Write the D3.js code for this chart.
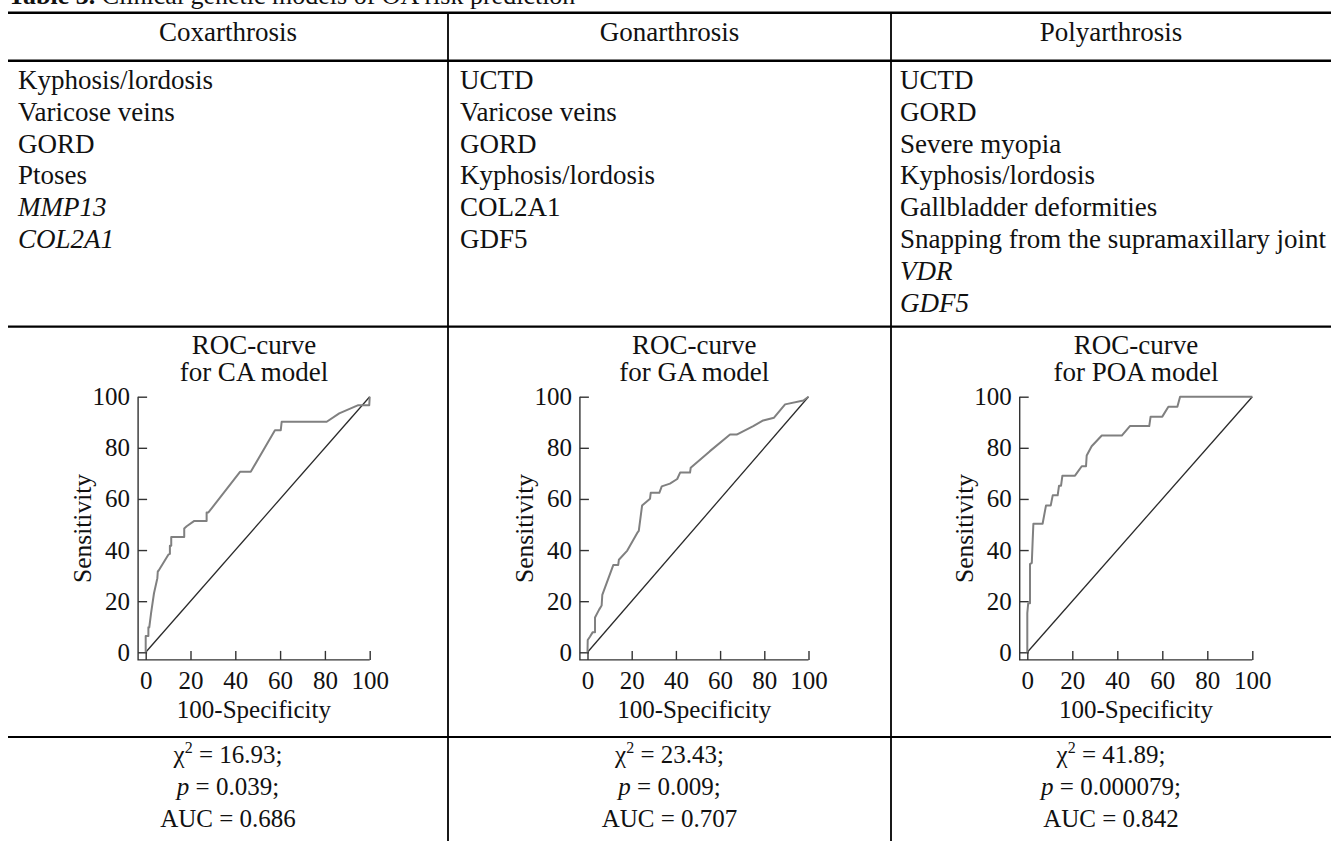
<!DOCTYPE html>
<html>
<head>
<meta charset="utf-8">
<script src="https://cdn.jsdelivr.net/npm/d3@7"></script>
<style>
  body { margin: 0; background: #fff; }
  svg { display: block; font-family: "Liberation Serif", "Times New Roman", serif; }
</style>
</head>
<body>
<script>
// table content
let columns = ["Coxarthrosis", "Gonarthrosis", "Polyarthrosis"];
let factorsCA = ["Kyphosis/lordosis", "Varicose veins", "GORD", "Ptoses", "MMP13", "COL2A1"];
let factorsGA = ["UCTD", "Varicose veins", "GORD", "Kyphosis/lordosis", "COL2A1", "GDF5"];
let factorsPOA = ["UCTD", "GORD", "Severe myopia", "Kyphosis/lordosis", "Gallbladder deformities",
    "Snapping from the supramaxillary joint", "VDR", "GDF5"];
let italicCA = ["MMP13", "COL2A1"];
let italicGA = [];
let italicPOA = ["VDR", "GDF5"];
let modelNames = ["CA", "GA", "POA"];

// ROC points: [100-Specificity, Sensitivity]
let rocCA = [[0,0],[0,6.4],[1.2,6.4],[1.2,9.8],[1.6,9.8],[2.4,15.3],[3.7,23.1],[5.2,29],[5.4,31.6],
    [5.8,32],[10.1,38.2],[10.8,38.5],[10.8,41.7],[11.4,41.7],[11.4,45.1],[17.2,45.1],[17.2,48.4],
    [18.3,49.3],[21.7,51.4],[27.2,51.4],[27.2,54.7],[28,54.7],[42.1,70.6],[46.9,70.6],[57.7,86.9],
    [60.3,86.9],[60.7,90.2],[80.8,90.2],[86.4,93.5],[94.9,96.7],[99.8,96.7],[100,100]];
let rocGA = [[0,0],[0.1,4.8],[1.1,6.1],[2.3,7.8],[3.4,7.8],[3.4,13.6],[5.2,16.6],[6.4,18.3],
    [6.7,22.5],[11.7,34.2],[13.9,34.2],[14.2,36.2],[18,39.8],[22.5,46.7],[23.2,47.5],[24.7,57.4],
    [28.3,60.1],[28.6,62.4],[32.5,62.4],[33.6,64.9],[37.3,66],[40.6,67.8],[41.9,70.3],[46.4,70.3],
    [46.7,72.2],[55.4,78.7],[64.5,85.2],[67.5,85.2],[75,88.5],[79.5,90.7],[84.4,91.8],[89.4,97],
    [97.7,98.5],[100,100]];
let rocPOA = [[0,0],[0,15.3],[0.4,19.2],[1.2,19.2],[1.2,34.5],[2,35],[2.4,44],[2.7,50.3],[6.8,50.3],
    [8.3,57.4],[10.4,57.4],[11.3,61.4],[13.5,61.4],[14.1,65.2],[15,65.2],[15.6,69.1],[21.2,69.1],
    [24.2,72.8],[26.1,72.8],[26.4,77],[28.6,80.6],[33.1,84.8],[42,84.8],[45.6,88.5],[54.2,88.5],
    [54.8,92.2],[60,92.2],[62.7,96.1],[66.7,96.1],[67.9,100],[100,100]];
let diagonal = [[0,0],[100,100]];

// statistics
let chi2 = ["16.93", "23.43", "41.89"];
let pValues = ["0.039", "0.009", "0.000079"];
let aucValues = ["0.686", "0.707", "0.842"];

let tickValues = [0, 20, 40, 60, 80, 100];

let W = 1331, H = 841;
let colEdges = [8, 448, 891, 1331];

let svg = d3.select("body").append("svg")
    .attr("width", W)
    .attr("height", H);

// caption (cut at the top of the picture)
let cap = svg.append("text")
    .attr("x", 8)
    .attr("y", 4)
    .style("font-size", "26px")
    .attr("fill", "#111");
cap.append("tspan").style("font-weight", "bold").text("Table 3.");
cap.append("tspan").text(" Clinical genetic models of OA risk prediction");

// table rules
[12.7, 60.7, 326.7, 737].forEach(function (y, i) {
    svg.append("line")
        .attr("x1", 8).attr("x2", W)
        .attr("y1", y).attr("y2", y)
        .attr("stroke", "#000")
        .attr("stroke-width", i < 2 ? 2.5 : 2.2);
});
[448, 891].forEach(function (x) {
    svg.append("line")
        .attr("x1", x).attr("x2", x)
        .attr("y1", 12.7).attr("y2", H)
        .attr("stroke", "#000")
        .attr("stroke-width", 1.8);
});

// header row
columns.forEach(function (c, i) {
    svg.append("text")
        .attr("x", (colEdges[i] + colEdges[i + 1]) / 2)
        .attr("y", 41)
        .attr("text-anchor", "middle")
        .style("font-size", "27px")
        .attr("fill", "#111")
        .text(c);
});

// factor lists
let factorLists = [factorsCA, factorsGA, factorsPOA];
let italicLists = [italicCA, italicGA, italicPOA];
let listX = [18, 460, 900];
factorLists.forEach(function (list, i) {
    svg.append("g").selectAll("text")
        .data(list)
        .enter().append("text")
        .attr("x", listX[i])
        .attr("y", function (d, j) { return 89 + j * 31.8; })
        .style("font-size", "27px")
        .style("font-style", function (d) { return italicLists[i].indexOf(d) >= 0 ? "italic" : "normal"; })
        .attr("fill", "#111")
        .text(function (d) { return d; });
});

// ROC charts
let rocData = [rocCA, rocGA, rocPOA];
let xRanges = [[145.7, 369.7], [587.5, 808.5], [1027.3, 1252.3]];
let yRange = [652.3, 396.7];
let axisGap = 7.6;

rocData.forEach(function (data, i) {
    let x = d3.scaleLinear().domain([0, 100]).range(xRanges[i]);
    let y = d3.scaleLinear().domain([0, 100]).range(yRange);
    let g = svg.append("g");
    let axX = xRanges[i][0] - axisGap;
    let axY = yRange[0] + axisGap;
    let cx = (axX + xRanges[i][1]) / 2;

    // title
    g.append("text")
        .attr("x", cx).attr("y", 354)
        .attr("text-anchor", "middle")
        .style("font-size", "27px")
        .attr("fill", "#111")
        .text("ROC-curve");
    g.append("text")
        .attr("x", cx).attr("y", 381)
        .attr("text-anchor", "middle")
        .style("font-size", "27px")
        .attr("fill", "#111")
        .text("for " + modelNames[i] + " model");

    // y axis
    let yAxis = g.append("g")
        .attr("transform", "translate(" + axX + ",0)")
        .call(d3.axisLeft(y).tickValues(tickValues).tickSizeInner(-9).tickSizeOuter(0).tickPadding(8));
    // x axis
    let xAxis = g.append("g")
        .attr("transform", "translate(0," + axY + ")")
        .call(d3.axisBottom(x).tickValues(tickValues).tickSizeInner(-9).tickSizeOuter(0).tickPadding(11));

    [yAxis, xAxis].forEach(function (a) {
        a.select(".domain").remove();
        a.selectAll("line").attr("stroke", "#333").attr("stroke-width", 1.4);
        a.selectAll("text")
            .style("font-size", "25px")
            .style("font-family", "'Liberation Serif', 'Times New Roman', serif")
            .attr("fill", "#111");
    });

    // axis lines meeting in the corner
    g.append("path")
        .attr("d", "M" + axX + "," + y(100) + "V" + axY + "H" + x(100))
        .attr("fill", "none")
        .attr("stroke", "#333")
        .attr("stroke-width", 1.4);

    // axis labels
    g.append("text")
        .attr("transform", "translate(" + (axX - 47) + "," + ((yRange[0] + yRange[1]) / 2 + 4) + ") rotate(-90)")
        .attr("text-anchor", "middle")
        .style("font-size", "25.5px")
        .attr("fill", "#111")
        .text("Sensitivity");
    g.append("text")
        .attr("x", cx).attr("y", 718)
        .attr("text-anchor", "middle")
        .style("font-size", "25px")
        .attr("fill", "#111")
        .text("100-Specificity");

    let line = d3.line()
        .x(function (d) { return x(d[0]); })
        .y(function (d) { return y(d[1]); });

    // reference diagonal
    g.append("path")
        .datum(diagonal)
        .attr("d", line)
        .attr("fill", "none")
        .attr("stroke", "#2a2a2a")
        .attr("stroke-width", 1.3);

    // ROC curve
    g.append("path")
        .datum(data)
        .attr("d", line)
        .attr("fill", "none")
        .attr("stroke", "#808080")
        .attr("stroke-width", 2)
        .attr("stroke-linejoin", "round");
});

// statistics row
chi2.forEach(function (c, i) {
    let cx = (colEdges[i] + colEdges[i + 1]) / 2;
    let t1 = svg.append("text")
        .attr("x", cx).attr("y", 763)
        .attr("text-anchor", "middle")
        .style("font-size", "25px")
        .attr("fill", "#111");
    t1.append("tspan").text("\u03C7");
    t1.append("tspan").attr("dy", -10).style("font-size", "16px").text("2");
    t1.append("tspan").attr("dy", 10).text(" = " + c + ";");

    let t2 = svg.append("text")
        .attr("x", cx).attr("y", 795)
        .attr("text-anchor", "middle")
        .style("font-size", "25px")
        .attr("fill", "#111");
    t2.append("tspan").style("font-style", "italic").text("p");
    t2.append("tspan").text(" = " + pValues[i] + ";");

    svg.append("text")
        .attr("x", cx).attr("y", 827)
        .attr("text-anchor", "middle")
        .style("font-size", "25px")
        .attr("fill", "#111")
        .text("AUC = " + aucValues[i]);
});
</script>
</body>
</html>
